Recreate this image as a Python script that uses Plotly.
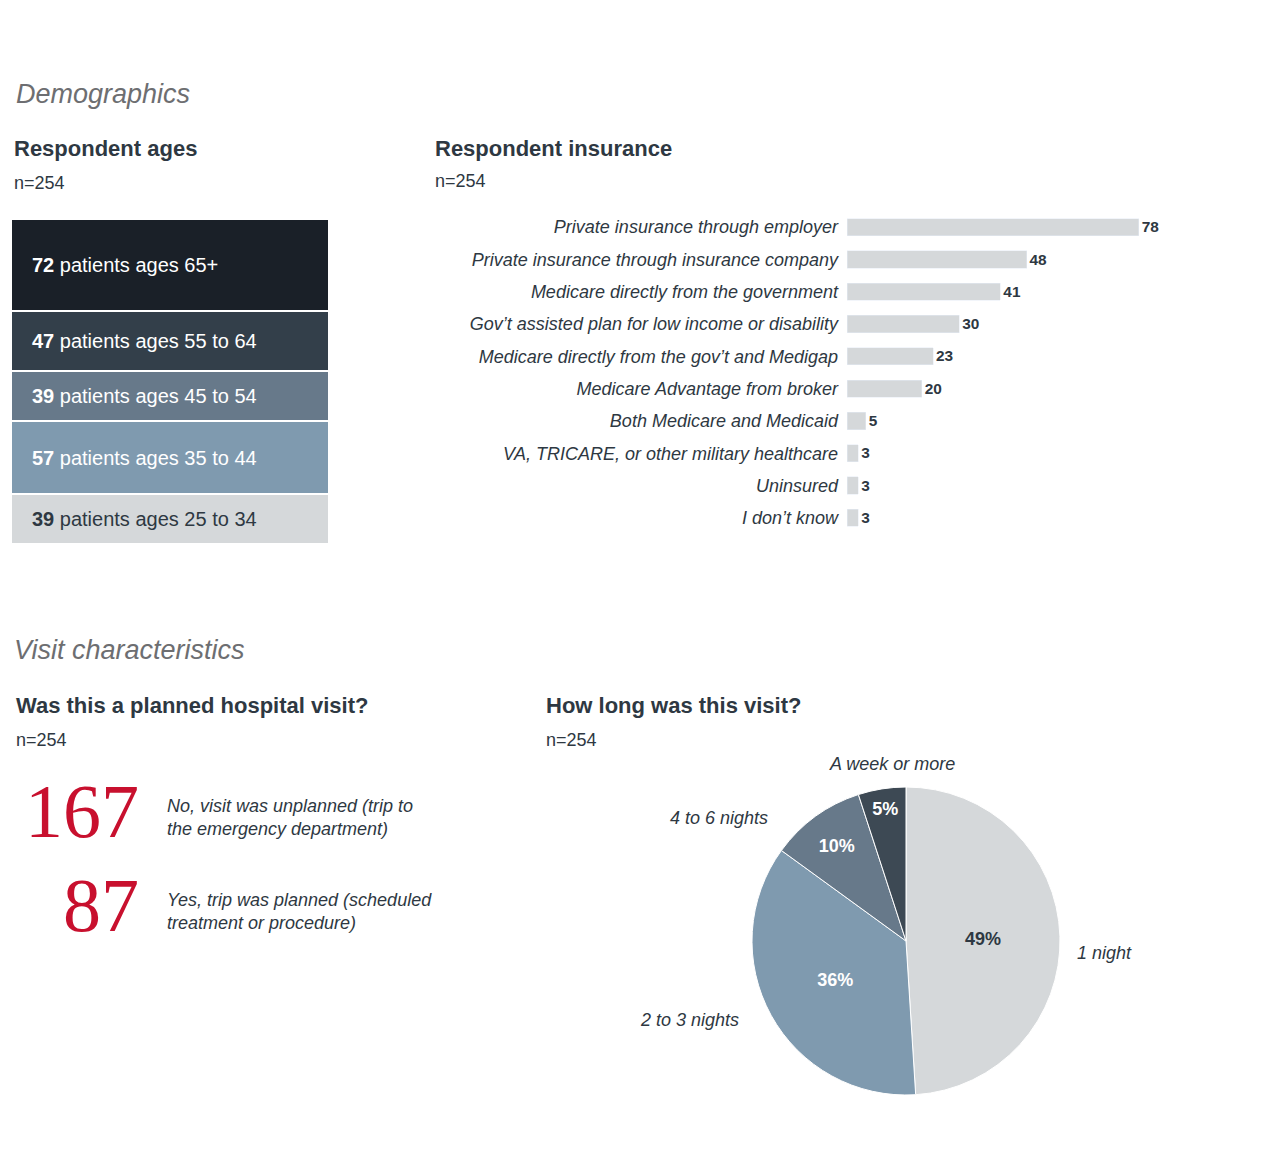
import plotly.graph_objects as go

# data
age_labels = ["25 to 34", "35 to 44", "45 to 54", "55 to 64", "65+"]
age_counts = [39, 57, 39, 47, 72]
age_colors = ["#d5d8da", "#7f9aaf", "#67798a", "#333f4a", "#1a2028"]

ins_labels = ["Private insurance through employer",
              "Private insurance through insurance company",
              "Medicare directly from the government",
              "Gov’t assisted plan for low income or disability",
              "Medicare directly from the gov’t and Medigap",
              "Medicare Advantage from broker",
              "Both Medicare and Medicaid",
              "VA, TRICARE, or other military healthcare",
              "Uninsured",
              "I don’t know"]
ins_counts = [78, 48, 41, 30, 23, 20, 5, 3, 3, 3]

planned_nums = ["167", "87"]
planned_text = ["No, visit was unplanned (trip to<br>the emergency department)",
                "Yes, trip was planned (scheduled<br>treatment or procedure)"]

stay_labels = ["1 night", "2 to 3 nights", "4 to 6 nights", "A week or more"]
stay_pct = [49, 36, 10, 5]
stay_colors = ["#d5d8da", "#7f9aaf", "#67798a", "#3d4954"]

FONT = "Liberation Sans, Arial, sans-serif"
DARK = "#2e3842"
W, H = 1280, 1164


def px(x):
    return x / W


def py(y):
    return 1 - y / H


fig = go.Figure()

# ages stacked block
for lab, c, col in zip(age_labels, age_counts, age_colors):
    fig.add_trace(go.Bar(x=[0], y=[c], width=1, marker=dict(color=col, line=dict(color="white", width=2)),
                         xaxis="x2", yaxis="y2", showlegend=False, hoverinfo="skip"))

annotations = []
cum = 0
for i, (lab, c) in enumerate(zip(age_labels, age_counts)):
    mid = cum + c / 2
    cum += c
    annotations.append(dict(x=-0.44, y=mid, xref="x2", yref="y2", xanchor="left", yanchor="middle",
                            showarrow=False, text=f"<b>{c}</b> patients ages {lab}",
                            font=dict(size=20, color=DARK if i == 0 else "white", family=FONT)))

# insurance bars
fig.add_trace(go.Bar(x=ins_counts, y=ins_labels, orientation="h", width=0.53,
                     marker_color="#d5d8da", text=[f"<b>{v}</b>" for v in ins_counts],
                     textposition="outside", textfont=dict(size=18, color=DARK, family=FONT),
                     cliponaxis=False, showlegend=False, hoverinfo="skip"))

# pie
fig.add_trace(go.Pie(labels=stay_labels, values=stay_pct, sort=False, direction="clockwise", rotation=0,
                     marker=dict(colors=stay_colors, line=dict(color="white", width=1)),
                     texttemplate="<b>%{value}%</b>", textposition="inside",
                     insidetextfont=dict(size=18, color=["#2e3842", "white", "white", "white"], family=FONT),
                     domain=dict(x=[px(744), px(1052)], y=[py(1087), py(779)]),
                     showlegend=False, hoverinfo="skip"))


def txt(x, y, s, size, color=DARK, anchor="left"):
    annotations.append(dict(x=px(x), y=py(y), xref="paper", yref="paper", xanchor=anchor, yanchor="middle",
                            showarrow=False, text=s, align="left",
                            font=dict(size=size, color=color, family=FONT)))


txt(6, 86, "<i>Demographics</i>", 27, "#6d6e71")
txt(4, 140, "<b>Respondent ages</b>", 22)
txt(4, 175, "n=254", 18)
txt(425, 140, "<b>Respondent insurance</b>", 22)
txt(425, 173, "n=254", 18)

txt(4, 642, "<i>Visit characteristics</i>", 27, "#6d6e71")
txt(6, 697, "<b>Was this a planned hospital visit?</b>", 22)
txt(6, 732, "n=254", 18)
txt(536, 697, "<b>How long was this visit?</b>", 22)
txt(536, 732, "n=254", 18)

for num, t, y in zip(planned_nums, planned_text, [803, 897]):
    annotations.append(dict(x=px(133), y=py(y), xref="paper", yref="paper", xanchor="right", yanchor="middle",
                            showarrow=False, text=num,
                            font=dict(size=76, color="#c8102e", family="Liberation Serif, Times New Roman, serif")))
    txt(157, y + 6, f"<i>{t}</i>", 18)

# pie outside labels
txt(884, 756, "<i>A week or more</i>", 18, anchor="center")
txt(711, 810, "<i>4 to 6 nights</i>", 18, anchor="center")
txt(1067, 945, "<i>1 night</i>", 18)
txt(681, 1012, "<i>2 to 3 nights</i>", 18, anchor="center")

fig.update_layout(
    width=W, height=H, margin=dict(l=0, r=0, t=0, b=0),
    paper_bgcolor="white", plot_bgcolor="white", barmode="stack",
    font=dict(family=FONT, color=DARK),
    xaxis=dict(domain=[px(839), px(1213)], range=[0, 100], visible=False),
    yaxis=dict(domain=[py(526), py(203)], autorange="reversed", showgrid=False, showline=False,
               ticks="", ticklabelstandoff=8,
               tickfont=dict(size=18, color=DARK, family=FONT, style="italic")),
    xaxis2=dict(domain=[px(3), px(321)], range=[-0.5, 0.5], visible=False),
    yaxis2=dict(domain=[py(536), py(211)], range=[0, sum(age_counts)], visible=False),
    annotations=annotations,
)

fig.write_html("out.html")
